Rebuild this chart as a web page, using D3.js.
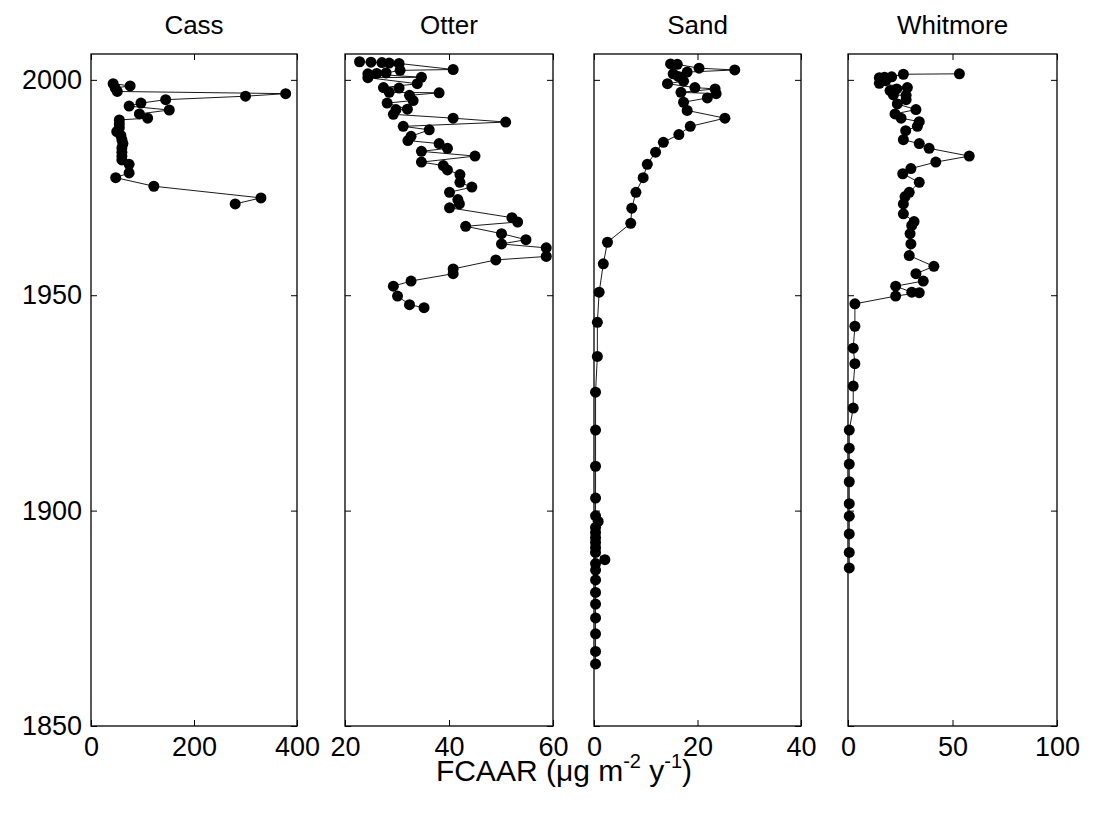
<!DOCTYPE html>
<html lang="en">
<head>
<meta charset="UTF-8">
<title>FCAAR profiles</title>
<style>
    body { margin: 0; background: #fff; }
    svg text { font-family: "Liberation Sans", Arial, sans-serif; fill: #000; }
    .axis path.domain { display: none; }
    .axis line { stroke: #000; stroke-width: 1; }
    .axis text { font-size: 27px; }
    .frame { fill: none; stroke: #000; stroke-width: 1.3; }
    .trace { fill: none; stroke: #000; stroke-width: 0.9; }
</style>
</head>
<body>
<svg id="chart" width="1093" height="813"></svg>

<script src="https://d3js.org/d3.v7.min.js"></script>
<script>
    // Cass
    const cassYear = [1999.1, 1998.6, 1998.1, 1997.3, 1996.8, 1996.2, 1995.4, 1994.6, 1993.9, 1993.0,
        1992.1, 1991.1, 1990.7, 1989.8, 1988.9, 1988.0, 1987.1, 1986.1, 1985.2, 1984.2,
        1983.2, 1982.3, 1981.4, 1980.4, 1978.4, 1977.3, 1975.3, 1972.6, 1971.2];
    const cassVal = [43, 76, 47, 51, 378, 300, 145, 97, 74, 152,
        94, 110, 55, 55, 55, 50, 58, 60, 62, 60,
        60, 60, 60, 74, 74, 48, 122, 330, 280];

    // Otter
    const otterYear = [2004.2, 2004.1, 2004.0, 2003.9, 2003.8, 2002.4, 2002.2, 2001.6, 2001.5, 2001.4,
        2000.6, 2000.5, 1999.1, 1998.2, 1998.1, 1997.1, 1997.0, 1996.4, 1995.2, 1994.6,
        1993.2, 1993.1, 1992.0, 1991.1, 1990.2, 1989.2, 1988.4, 1986.9, 1985.9, 1985.2,
        1984.1, 1983.4, 1982.3, 1980.9, 1980.1, 1979.1, 1978.0, 1976.2, 1975.1, 1973.9,
        1972.2, 1971.2, 1970.3, 1968.0, 1967.0, 1966.0, 1964.3, 1962.9, 1961.9, 1961.0,
        1959.0, 1958.2, 1956.1, 1955.0, 1953.3, 1952.1, 1949.8, 1947.8, 1947.1];
    const otterVal = [22.8, 25.0, 27.1, 28.5, 30.4, 40.8, 30.6, 27.9, 26.1, 24.4,
        34.7, 24.4, 33.9, 27.4, 30.4, 28.5, 38.1, 32.4, 33.1, 28.1,
        32.0, 29.8, 29.3, 40.8, 50.9, 31.2, 36.2, 32.7, 32.1, 38.1,
        39.7, 34.7, 45.0, 34.7, 38.9, 39.7, 42.1, 42.1, 44.4, 40.1,
        41.7, 42.0, 40.1, 52.1, 53.2, 43.2, 50.1, 54.8, 50.1, 58.7,
        58.7, 49.0, 40.8, 40.8, 32.7, 29.3, 30.1, 32.4, 35.2];

    // Sand
    const sandYear = [2003.7, 2003.6, 2002.7, 2002.3, 2001.8, 2001.4, 2000.8, 1999.7, 1999.1, 1998.2,
        1997.9, 1997.1, 1996.8, 1995.8, 1994.8, 1992.9, 1991.1, 1989.2, 1987.3, 1985.5,
        1983.2, 1980.4, 1977.3, 1973.9, 1970.2, 1966.7, 1962.3, 1957.3, 1950.7, 1943.7,
        1935.8, 1927.5, 1918.7, 1910.3, 1902.9, 1898.8, 1897.5, 1896.1, 1894.9, 1893.7,
        1892.6, 1891.4, 1890.3, 1888.6, 1887.7, 1886.2, 1883.9, 1881.0, 1878.3, 1875.1,
        1871.4, 1867.3, 1864.4];
    const sandVal = [14.8, 16.1, 20.3, 27.2, 18.0, 15.3, 16.3, 17.3, 14.2, 19.5,
        23.4, 16.8, 23.6, 21.9, 17.3, 18.0, 25.3, 18.6, 16.4, 13.4,
        11.9, 10.3, 9.5, 8.1, 7.3, 7.1, 2.6, 1.8, 1.0, 0.65,
        0.65, 0.3, 0.3, 0.3, 0.3, 0.3, 0.8, 0.3, 0.3, 0.3,
        0.3, 0.3, 0.3, 2.1, 0.3, 0.3, 0.3, 0.3, 0.3, 0.3,
        0.3, 0.3, 0.3];

    // Whitmore
    const whitYear = [2001.4, 2001.3, 2000.7, 2000.6, 2000.5, 1999.8, 1999.2, 1998.2, 1997.9, 1997.5,
        1996.5, 1996.4, 1995.4, 1994.4, 1993.1, 1992.1, 1991.1, 1990.3, 1989.2, 1988.2,
        1986.1, 1985.2, 1984.1, 1982.3, 1980.9, 1979.4, 1978.2, 1976.2, 1973.9, 1972.9,
        1971.2, 1968.9, 1967.1, 1966.2, 1964.3, 1961.9, 1959.2, 1956.7, 1955.0, 1953.3,
        1952.1, 1950.7, 1950.6, 1949.8, 1948.0, 1942.8, 1937.7, 1934.1, 1928.9, 1923.8,
        1918.7, 1914.5, 1910.8, 1906.7, 1901.6, 1898.7, 1894.6, 1890.3, 1886.7];
    const whitVal = [53.3, 26.5, 20.9, 17.5, 15.0, 18.0, 15.0, 28.4, 23.3, 20.1,
        21.7, 27.8, 27.8, 23.6, 32.5, 22.5, 25.4, 34.1, 33.2, 27.6,
        26.5, 34.1, 38.8, 58.0, 42.0, 30.1, 26.2, 34.1, 29.3, 27.3,
        26.5, 26.5, 31.6, 30.5, 29.7, 30.1, 29.3, 41.1, 32.5, 36.0,
        22.8, 30.5, 34.1, 22.8, 3.3, 3.3, 2.5, 3.3, 2.5, 2.5,
        0.6, 0.6, 0.6, 0.6, 0.6, 0.6, 0.6, 0.6, 0.6];

    const siteNames = ['Cass', 'Otter', 'Sand', 'Whitmore'];
    const xDomains = [[0, 400], [20, 60], [0, 40], [0, 100]];
    const xTicks = [[0, 200, 400], [20, 40, 60], [0, 20, 40], [0, 50, 100]];
    const yTicks = [1850, 1900, 1950, 2000];

    const panels = [
        { years: cassYear, vals: cassVal, left: 91, right: 297 },
        { years: otterYear, vals: otterVal, left: 345, right: 553 },
        { years: sandYear, vals: sandVal, left: 594, right: 801 },
        { years: whitYear, vals: whitVal, left: 848, right: 1057 }
    ];

    const plotTop = 54, plotBottom = 726, tick = 6;
    const svg = d3.select('#chart');
    const y = d3.scaleLinear().domain([1850, 2006]).range([plotBottom, plotTop]);

    panels.forEach((p, i) => {
        const x = d3.scaleLinear().domain(xDomains[i]).range([p.left, p.right]);
        const g = svg.append('g');

        // inward ticks on all four sides
        g.append('g').attr('class', 'axis')
            .attr('transform', `translate(0,${plotBottom})`)
            .call(d3.axisBottom(x).tickValues(xTicks[i]).tickSize(-tick).tickPadding(11));
        g.append('g').attr('class', 'axis')
            .attr('transform', `translate(0,${plotTop})`)
            .call(d3.axisTop(x).tickValues(xTicks[i]).tickSize(-tick).tickFormat(''));
        g.append('g').attr('class', 'axis')
            .attr('transform', `translate(${p.left},0)`)
            .call(d3.axisLeft(y).tickValues(yTicks).tickSize(-tick).tickPadding(9)
                .tickFormat(i === 0 ? d3.format('d') : ''));
        g.append('g').attr('class', 'axis')
            .attr('transform', `translate(${p.right},0)`)
            .call(d3.axisRight(y).tickValues(yTicks).tickSize(-tick).tickFormat(''));

        g.append('rect').attr('class', 'frame')
            .attr('x', p.left).attr('y', plotTop)
            .attr('width', p.right - p.left).attr('height', plotBottom - plotTop);

        const pts = p.years.map((yr, k) => ({ yr: yr, v: p.vals[k] }));

        g.append('path').datum(pts).attr('class', 'trace')
            .attr('d', d3.line().x(d => x(d.v)).y(d => y(d.yr)));

        g.selectAll('circle').data(pts).enter().append('circle')
            .attr('cx', d => x(d.v)).attr('cy', d => y(d.yr))
            .attr('r', 5.5).attr('fill', '#000');

        svg.append('text')
            .attr('x', (p.left + p.right) / 2).attr('y', 34)
            .attr('text-anchor', 'middle').attr('font-size', 26)
            .text(siteNames[i]);
    });

    // x label with superscripts
    const xl = svg.append('text')
        .attr('x', 564).attr('y', 781)
        .attr('text-anchor', 'middle').attr('font-size', 30);
    xl.append('tspan').text('FCAAR (\u03bcg m');
    xl.append('tspan').attr('dy', -13).attr('font-size', 20).text('-2');
    xl.append('tspan').attr('dy', 13).text(' y');
    xl.append('tspan').attr('dy', -13).attr('font-size', 20).text('-1');
    xl.append('tspan').attr('dy', 13).text(')');
</script>
</body>
</html>
